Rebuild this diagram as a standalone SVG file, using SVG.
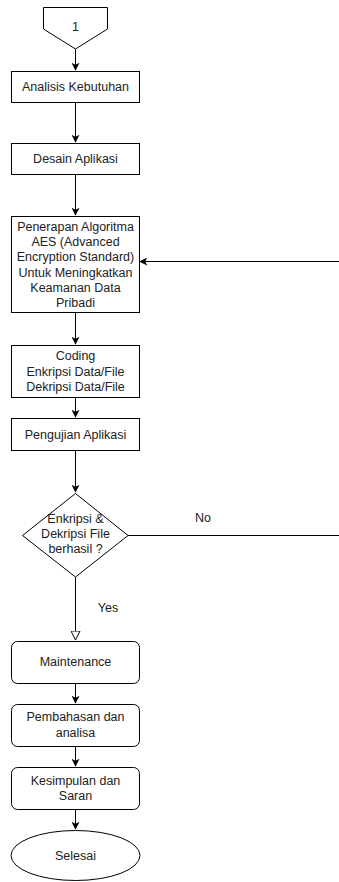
<svg xmlns="http://www.w3.org/2000/svg" width="339" height="882" viewBox="0 0 339 882">
<style>
.s{fill:#fff;stroke:#000;stroke-width:1}
.t{font-family:"Liberation Sans",Arial,sans-serif;font-size:12.5px;fill:#222;text-anchor:middle}
.c{fill:none;stroke:#000;stroke-width:1}
</style>
<defs>
<marker id="a" viewBox="0 0 10 10" refX="9" refY="5" markerWidth="8" markerHeight="8" markerUnits="userSpaceOnUse" orient="auto">
<path d="M0,0 L10,5 L0,10 L2.5,5 z" fill="#000"/>
</marker>
<marker id="h" viewBox="0 0 10 10" refX="9.5" refY="5" markerWidth="10" markerHeight="10" markerUnits="userSpaceOnUse" orient="auto">
<path d="M0.5,0.5 L9.5,5 L0.5,9.5 z" fill="#fff" stroke="#000" stroke-width="1"/>
</marker>
</defs>
<g id="connectors">
<path class="c" d="M75.5,49 V70" marker-end="url(#a)"/>
<path class="c" d="M75.5,102 V142" marker-end="url(#a)"/>
<path class="c" d="M75.5,175 V215" marker-end="url(#a)"/>
<path class="c" d="M75.5,313 V344" marker-end="url(#a)"/>
<path class="c" d="M75.5,397 V417" marker-end="url(#a)"/>
<path class="c" d="M75.5,451 V492" marker-end="url(#a)"/>
<path class="c" d="M75.5,577 V640" marker-end="url(#h)"/>
<path class="c" d="M75.5,683 V703" marker-end="url(#a)"/>
<path class="c" d="M75.5,746 V766" marker-end="url(#a)"/>
<path class="c" d="M75.5,809 V829" marker-end="url(#a)"/>
<path class="c" d="M128,535.5 H345 V261.5 H140" marker-end="url(#a)"/>
<text class="t" x="203" y="522">No</text>
<text class="t" x="108" y="612">Yes</text>
</g>
<g id="start">
<polygon class="s" points="43.5,7.5 107.5,7.5 107.5,29 75.5,49 43.5,29"/>
<text class="t" x="75.5" y="31">1</text>
</g>
<g id="analisis">
<rect class="s" x="11.5" y="71.5" width="128" height="31"/>
<text class="t" x="75.5" y="91">Analisis Kebutuhan</text>
</g>
<g id="desain">
<rect class="s" x="11.5" y="143.5" width="128" height="31"/>
<text class="t" x="75.5" y="163">Desain Aplikasi</text>
</g>
<g id="penerapan">
<rect class="s" x="11.5" y="216.5" width="128" height="96"/>
<text class="t" x="75.5" y="231">Penerapan Algoritma</text>
<text class="t" x="75.5" y="246.2">AES (Advanced</text>
<text class="t" x="75.5" y="261.4">Encryption Standard)</text>
<text class="t" x="75.5" y="276.6">Untuk Meningkatkan</text>
<text class="t" x="75.5" y="291.8">Keamanan Data</text>
<text class="t" x="75.5" y="307">Pribadi</text>
</g>
<g id="coding">
<rect class="s" x="11.5" y="345.5" width="128" height="52"/>
<text class="t" x="75.5" y="360">Coding</text>
<text class="t" x="75.5" y="375.5">Enkripsi Data/File</text>
<text class="t" x="75.5" y="391">Dekripsi Data/File</text>
</g>
<g id="pengujian">
<rect class="s" x="11.5" y="418.5" width="128" height="32"/>
<text class="t" x="75.5" y="439">Pengujian Aplikasi</text>
</g>
<g id="decision">
<polygon class="s" points="75.5,493.5 128,535.5 75.5,577 22.5,535.5"/>
<text class="t" x="75.5" y="523">Enkripsi &amp;</text>
<text class="t" x="75.5" y="538">Dekripsi File</text>
<text class="t" x="75.5" y="553">berhasil ?</text>
</g>
<g id="maintenance">
<rect class="s" x="11.5" y="641.5" width="128" height="42" rx="6"/>
<text class="t" x="75.5" y="666">Maintenance</text>
</g>
<g id="pembahasan">
<rect class="s" x="11.5" y="704.5" width="128" height="42" rx="6"/>
<text class="t" x="75.5" y="721">Pembahasan dan</text>
<text class="t" x="75.5" y="737">analisa</text>
</g>
<g id="kesimpulan">
<rect class="s" x="11.5" y="767.5" width="128" height="42" rx="6"/>
<text class="t" x="75.5" y="785">Kesimpulan dan</text>
<text class="t" x="75.5" y="800">Saran</text>
</g>
<g id="selesai">
<ellipse class="s" cx="75.5" cy="855.5" rx="64.5" ry="25"/>
<text class="t" x="75.5" y="860">Selesai</text>
</g>
</svg>
